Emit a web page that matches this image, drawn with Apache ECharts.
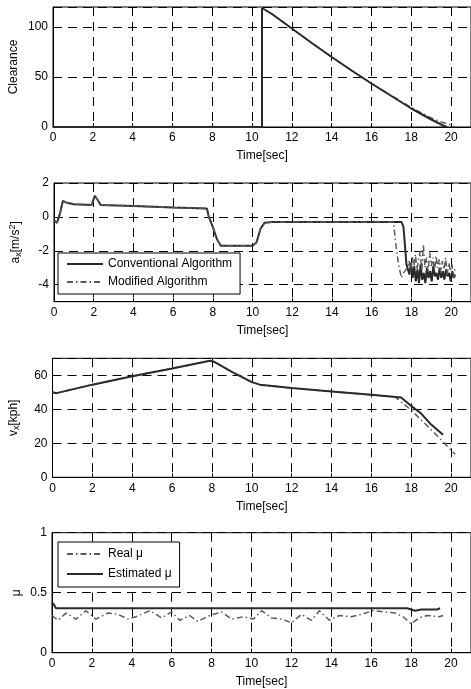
<!DOCTYPE html>
<html>
<head>
<meta charset="utf-8">
<script src="https://cdn.jsdelivr.net/npm/echarts@6/dist/echarts.min.js"></script>
<style>
  html, body { margin: 0; padding: 0; background: #fff; }
  #chart { width: 471px; height: 689px; }
</style>
</head>
<body>
<div id="chart"></div>
<script>
// Clearance
var clrConvT = [0, 10.5, 10.5, 11, 12, 13, 14, 15, 16, 17, 18, 19, 19.6, 19.8];
var clrConvV = [0, 0, 119, 113, 98.5, 84, 70, 56.5, 43.5, 31, 18.5, 7.5, 1.5, 0];
var clrModT = [0, 10.5, 10.5, 11, 12, 13, 14, 15, 16, 17, 18, 19, 19.5, 20, 20.2];
var clrModV = [0, 0, 119, 113, 98.5, 84, 70, 56.5, 43.5, 31.5, 19.5, 9, 5, 2, 0];

// a_x
var axConvT = [0, 0.15, 0.3, 0.45, 0.6, 1, 1.9, 2.05, 2.2, 2.35, 4, 6, 7.7, 7.8, 8, 8.2, 8.4, 10, 10.2, 10.4, 10.6, 11, 17.5, 17.6, 17.75,
  17.9, 17.98, 18.06, 18.14, 18.22, 18.3, 18.38, 18.46, 18.54, 18.62, 18.7, 18.78, 18.86, 18.94, 19.02, 19.1, 19.18, 19.26, 19.34,
  19.42, 19.5, 19.58, 19.66, 19.74, 19.82, 19.9, 19.98, 20.06, 20.14, 20.2];
var axConvV = [-0.2, -0.35, 0.2, 0.95, 0.85, 0.75, 0.7, 1.25, 1.0, 0.7, 0.65, 0.55, 0.5, 0.0, -0.6, -1.3, -1.7, -1.7, -1.5, -0.7, -0.35, -0.3, -0.3, -0.6, -2.8,
  -3.4, -2.7, -3.6, -2.9, -3.8, -3.1, -3.9, -2.8, -3.7, -3.3, -3.9, -3.0, -3.6, -3.2, -3.8, -2.9, -3.5, -3.3, -3.7,
  -3.0, -3.6, -3.2, -3.7, -3.1, -3.5, -3.3, -3.8, -3.2, -3.6, -3.4];
var axModT = [0, 0.15, 0.3, 0.45, 0.6, 1, 1.9, 2.05, 2.2, 2.35, 4, 6, 7.7, 7.8, 8, 8.2, 8.4, 10, 10.2, 10.4, 10.6, 11, 17.1, 17.2, 17.35, 17.5, 17.6,
  17.8, 17.88, 17.96, 18.04, 18.12, 18.2, 18.28, 18.36, 18.44, 18.52, 18.6, 18.68, 18.76, 18.84, 18.92, 19.0, 19.08, 19.16, 19.24,
  19.32, 19.4, 19.48, 19.56, 19.64, 19.72, 19.8, 19.88, 19.96, 20.04, 20.12, 20.2];
var axModV = [-0.2, -0.35, 0.2, 0.95, 0.85, 0.75, 0.7, 1.25, 1.0, 0.7, 0.65, 0.55, 0.5, 0.0, -0.6, -1.3, -1.7, -1.7, -1.5, -0.7, -0.35, -0.3, -0.3, -1.5, -2.8, -3.6, -3.3,
  -3.0, -2.6, -3.2, -2.3, -3.0, -2.2, -3.1, -2.5, -2.0, -3.2, -1.6, -3.0, -2.4, -3.3, -2.1, -2.9, -2.4, -3.2, -2.3,
  -3.0, -2.5, -3.3, -2.6, -3.1, -2.4, -3.4, -2.7, -3.2, -2.8, -3.6, -3.0];

// v_x
var vxConvT = [0, 0.2, 2, 4, 6, 7.9, 8.1, 9, 10, 10.4, 12, 14, 16, 17.5, 18, 18.5, 19, 19.6];
var vxConvV = [50, 49.5, 54.5, 59.5, 64, 68.5, 68, 62, 56, 54.5, 52.5, 50.5, 48.5, 47, 42, 37.5, 31, 25];
var vxModT = [0, 0.2, 2, 4, 6, 7.9, 8.1, 9, 10, 10.4, 12, 14, 16, 17.2, 18, 19, 20, 20.2];
var vxModV = [50, 49.5, 54.5, 59.5, 64, 68.5, 68, 62, 56, 54.5, 52.5, 50.5, 48.5, 47.2, 39.5, 28, 16, 13.5];

// mu
var muRealT = [0, 0.3, 0.7, 1.2, 1.7, 2.2, 2.8, 3.3, 3.8, 4.2, 4.9, 5.5, 6.0, 6.4, 6.9, 7.3, 7.9, 8.5, 9.0, 9.6, 10.1, 10.5,
  11.0, 11.5, 12.0, 12.5, 13.0, 13.4, 13.9, 14.4, 15.0, 15.5, 16.1, 16.7, 17.2, 17.6, 18.0, 18.4, 18.8, 19.4, 19.6];
var muRealV = [0.31, 0.27, 0.33, 0.28, 0.35, 0.28, 0.33, 0.32, 0.28, 0.30, 0.35, 0.29, 0.34, 0.27, 0.31, 0.26, 0.31, 0.34, 0.28, 0.30, 0.28, 0.35,
  0.29, 0.28, 0.25, 0.32, 0.27, 0.35, 0.27, 0.31, 0.30, 0.32, 0.35, 0.34, 0.33, 0.30, 0.24, 0.29, 0.31, 0.30, 0.31];
var muEstT = [0, 0.1, 0.2, 17.8, 17.9, 18.2, 18.5, 19, 19.3, 19.45];
var muEstV = [0.42, 0.40, 0.37, 0.37, 0.355, 0.35, 0.36, 0.36, 0.36, 0.37];

var axTicks = [-4, -2, 0, 2];

function zip(t, v) {
  return t.map(function (x, i) { return [x, v[i]]; });
}

var font = 'Liberation Sans, Arial, sans-serif';
var convStyle = { color: '#2a2a2a', width: 2, type: 'solid' };
var modStyle = { color: '#5a5a5a', width: 1.5, type: [6, 3, 1.5, 3] };
var gridDash = { color: '#000', width: 1, type: [9, 6] };

var grids = [
  { left: 52, top: 7, width: 420, height: 120 },
  { left: 52, top: 183, width: 420, height: 118.7 },
  { left: 52, top: 358.3, width: 420, height: 119 },
  { left: 52, top: 532.7, width: 420, height: 120 }
];
grids.forEach(function (g) {
  g.show = true;
  g.borderColor = '#000';
  g.borderWidth = 1;
  g.backgroundColor = '#fff';
  g.containLabel = false;
});

function xAxis(i) {
  return {
    type: 'value', gridIndex: i, min: 0, max: 21, interval: 2,
    name: 'Time[sec]', nameLocation: 'middle', nameGap: 23, nameMoveOverlap: false,
    nameTextStyle: { color: '#000', fontSize: 12, fontFamily: font },
    axisLine: { show: true, onZero: false, lineStyle: { color: '#000', width: 1 } },
    axisTick: { show: true, inside: true, length: 4, lineStyle: { color: '#000' } },
    axisLabel: { color: '#000', fontSize: 12, fontFamily: font, margin: 5, showMaxLabel: false },
    splitLine: { show: true, lineStyle: gridDash }
  };
}

function yAxis(i, extra) {
  var a = {
    type: 'value', gridIndex: i, nameLocation: 'middle', nameRotate: 90, nameMoveOverlap: false,
    nameTextStyle: { color: '#000', fontSize: 12, fontFamily: font },
    axisLine: { show: true, onZero: false, lineStyle: { color: '#000', width: 1 } },
    axisTick: { show: true, inside: true, length: 4, lineStyle: { color: '#000' } },
    axisLabel: { color: '#000', fontSize: 12, fontFamily: font, margin: 5, showMaxLabel: false },
    splitLine: { show: true, lineStyle: gridDash }
  };
  for (var k in extra) {
    if (typeof extra[k] === 'object' && a[k] && !Array.isArray(extra[k])) {
      for (var kk in extra[k]) a[k][kk] = extra[k][kk];
    } else {
      a[k] = extra[k];
    }
  }
  return a;
}

var rich = {
  n: { fontSize: 12, fontFamily: font, color: '#000' },
  s: { fontSize: 9, fontFamily: font, color: '#000', verticalAlign: 'bottom', padding: [6, 0, 0, 0] },
  p: { fontSize: 9, fontFamily: font, color: '#000', verticalAlign: 'top', padding: [0, 0, 6, 0] }
};

function legendBox(names, top, pad, gap) {
  return {
    data: names,
    orient: 'vertical', left: 58, top: top,
    backgroundColor: '#fff', borderColor: '#000', borderWidth: 1,
    padding: pad, itemWidth: 36, itemHeight: 10, itemGap: gap,
    itemStyle: { opacity: 0, borderWidth: 0 },
    textStyle: { color: '#000', fontSize: 12, fontFamily: font }
  };
}

var chart = echarts.init(document.getElementById('chart'), null, { renderer: 'canvas' });

var option = {
  animation: false,
  backgroundColor: '#fff',
  grid: grids,
  xAxis: [xAxis(0), xAxis(1), xAxis(2), xAxis(3)],
  yAxis: [
    yAxis(0, { min: 0, max: 120, interval: 50, name: 'Clearance', nameGap: 33 }),
    yAxis(1, {
      min: -5, max: 2, name: '{n|a}{s|x}{n|[m/s}{p|2}{n|]}', nameGap: 31,
      nameTextStyle: { rich: rich },
      axisTick: { customValues: axTicks },
      axisLabel: { customValues: axTicks, showMaxLabel: true }
    }),
    yAxis(2, { min: 0, max: 70, interval: 20, name: '{n|v}{s|x}{n|[kph]}', nameGap: 31, nameTextStyle: { rich: rich } }),
    yAxis(3, { min: 0, max: 1, interval: 0.5, name: 'μ', nameGap: 29, axisLabel: { showMaxLabel: true } })
  ],
  legend: [
    legendBox(['Conventional Algorithm', 'Modified Algorithm'], 253, [5, 8, 6, 8], 6),
    legendBox(['Real μ', 'Estimated μ'], 542, [6, 8, 7, 8], 8)
  ],
  series: [
    { name: 'Modified Algorithm', type: 'line', xAxisIndex: 0, yAxisIndex: 0, symbol: 'none', lineStyle: modStyle, itemStyle: { color: modStyle.color }, data: zip(clrModT, clrModV) },
    { name: 'Conventional Algorithm', type: 'line', xAxisIndex: 0, yAxisIndex: 0, symbol: 'none', lineStyle: convStyle, itemStyle: { color: convStyle.color }, data: zip(clrConvT, clrConvV) },
    { name: 'Conventional Algorithm', type: 'line', xAxisIndex: 1, yAxisIndex: 1, symbol: 'none', lineStyle: convStyle, itemStyle: { color: convStyle.color }, data: zip(axConvT, axConvV) },
    { name: 'Modified Algorithm', type: 'line', xAxisIndex: 1, yAxisIndex: 1, symbol: 'none', lineStyle: modStyle, itemStyle: { color: modStyle.color }, data: zip(axModT, axModV) },
    { name: 'Modified Algorithm', type: 'line', xAxisIndex: 2, yAxisIndex: 2, symbol: 'none', lineStyle: modStyle, itemStyle: { color: modStyle.color }, data: zip(vxModT, vxModV) },
    { name: 'Conventional Algorithm', type: 'line', xAxisIndex: 2, yAxisIndex: 2, symbol: 'none', lineStyle: convStyle, itemStyle: { color: convStyle.color }, data: zip(vxConvT, vxConvV) },
    { name: 'Real μ', type: 'line', xAxisIndex: 3, yAxisIndex: 3, symbol: 'none', lineStyle: modStyle, itemStyle: { color: modStyle.color }, data: zip(muRealT, muRealV) },
    { name: 'Estimated μ', type: 'line', xAxisIndex: 3, yAxisIndex: 3, symbol: 'none', lineStyle: convStyle, itemStyle: { color: convStyle.color }, data: zip(muEstT, muEstV) }
  ]
};

chart.setOption(option);
</script>
</body>
</html>
